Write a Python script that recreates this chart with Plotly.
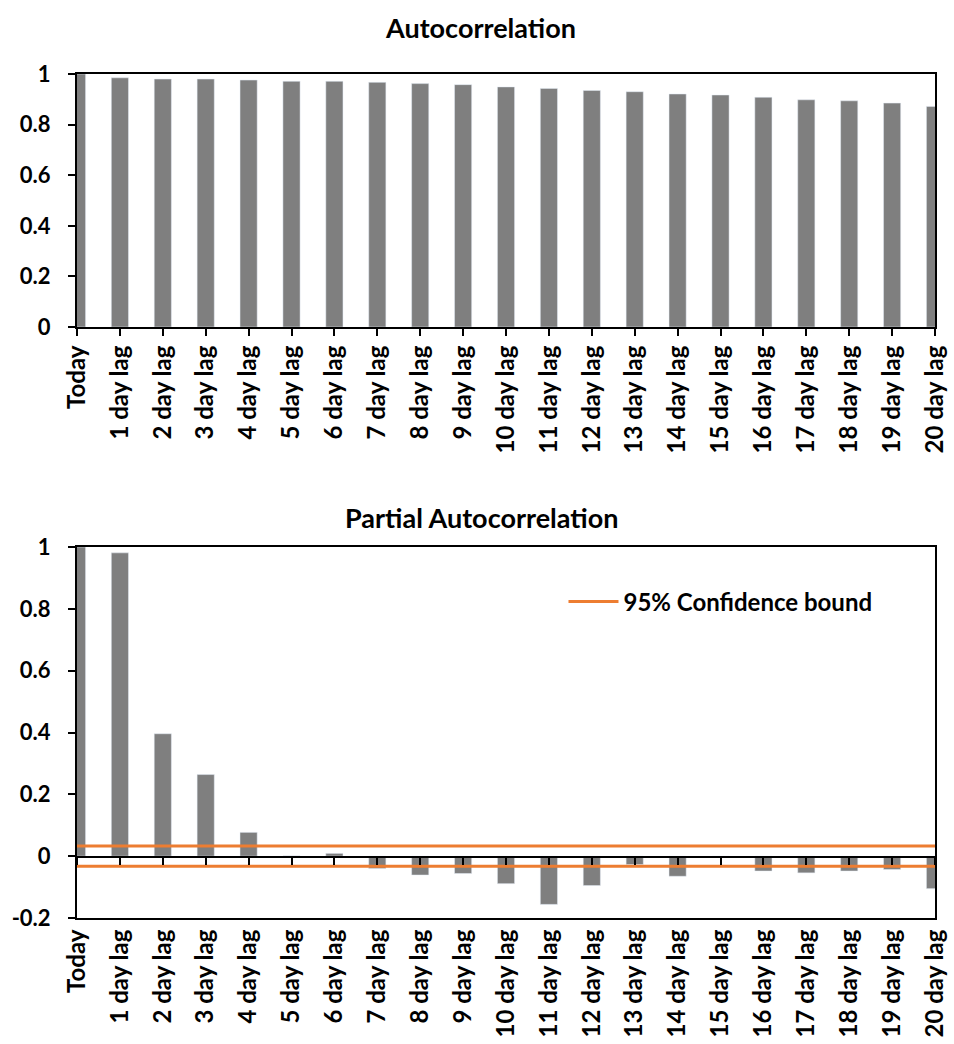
import plotly.graph_objects as go

# ---------------- data ----------------
categories = ["Today", "1 day lag", "2 day lag", "3 day lag", "4 day lag", "5 day lag",
              "6 day lag", "7 day lag", "8 day lag", "9 day lag", "10 day lag",
              "11 day lag", "12 day lag", "13 day lag", "14 day lag", "15 day lag",
              "16 day lag", "17 day lag", "18 day lag", "19 day lag", "20 day lag"]

acf_values = [1.0, 0.985, 0.980, 0.980, 0.976, 0.971, 0.971, 0.967, 0.962, 0.958,
              0.949, 0.943, 0.935, 0.930, 0.921, 0.917, 0.908, 0.898, 0.894, 0.885, 0.872]

pacf_values = [1.0, 0.981, 0.396, 0.264, 0.077, 0.001, 0.009, -0.040, -0.061, -0.056,
               -0.089, -0.156, -0.095, -0.027, -0.065, -0.002, -0.048, -0.054, -0.048,
               -0.043, -0.105]

conf_upper = [0.033] * len(categories)
conf_lower = [-0.033] * len(categories)

acf_ticks = [0, 0.2, 0.4, 0.6, 0.8, 1]
acf_ticklabels = ["0", "0.2", "0.4", "0.6", "0.8", "1"]
pacf_ticks = [-0.2, 0, 0.2, 0.4, 0.6, 0.8, 1]
pacf_ticklabels = ["-0.2", "0", "0.2", "0.4", "0.6", "0.8", "1"]

# ---------------- style ----------------
FONT = "Lato"
BAR = "#7F7F7F"
ORANGE = "#ED7D31"
W, H = 954, 1044
ML, MR, MT, MB = 77, 19, 74, 126
plot_h = H - MT - MB
top_dom = [(H - MB - 327) / plot_h, 1.0]
bot_dom = [0.0, (H - MB - 547) / plot_h]
pacf_range = [-0.2, 1.0]
zero_pos = bot_dom[0] + (bot_dom[1] - bot_dom[0]) * (0 - pacf_range[0]) / (pacf_range[1] - pacf_range[0])

xtickfont = dict(family=FONT, size=24, color="black", weight="bold")
ytickfont = dict(family=FONT, size=22, color="black", weight="bold")

fig = go.Figure()
fig.add_trace(go.Bar(x=categories, y=acf_values, marker_color=BAR, width=0.4,
                     xaxis="x", yaxis="y", showlegend=False, hoverinfo="x+y"))
fig.add_trace(go.Bar(x=categories, y=pacf_values, marker_color=BAR, width=0.4,
                     xaxis="x2", yaxis="y2", showlegend=False, hoverinfo="x+y"))
fig.add_trace(go.Scatter(x=categories, y=conf_upper, mode="lines",
                         line=dict(color=ORANGE, width=3), name="95% Confidence bound",
                         xaxis="x2", yaxis="y2", showlegend=True))
fig.add_trace(go.Scatter(x=categories, y=conf_lower, mode="lines",
                         line=dict(color=ORANGE, width=3), name="95% Confidence bound",
                         xaxis="x2", yaxis="y2", showlegend=False))
# invisible helper trace that carries the categories for the zero-line axis with ticks
fig.add_trace(go.Scatter(x=categories, y=pacf_values, mode="markers",
                         marker=dict(opacity=0), xaxis="x3", yaxis="y3",
                         showlegend=False, hoverinfo="skip"))

axis_common = dict(showline=True, linecolor="black", linewidth=2, mirror=True,
                   showgrid=False, zeroline=False, automargin=False)

fig.update_layout(
    width=W, height=H,
    margin=dict(l=ML, r=MR, t=MT, b=MB),
    paper_bgcolor="white", plot_bgcolor="rgba(0,0,0,0)",
    xaxis=dict(domain=[0, 1], anchor="y", type="category", range=[0, 20],
               ticks="outside", ticklen=7, tickwidth=2, tickcolor="black",
               tickangle=-90, tickfont=xtickfont, ticklabelstandoff=0, **axis_common),
    yaxis=dict(domain=top_dom, anchor="x", range=[0, 1], tickvals=acf_ticks,
               ticktext=acf_ticklabels, ticks="outside", ticklen=7, tickwidth=2,
               tickcolor="black", tickfont=ytickfont, ticklabelstandoff=13, **axis_common),
    xaxis2=dict(domain=[0, 1], anchor="y2", type="category", range=[0, 20],
                ticks="", tickangle=-90, tickfont=xtickfont, ticklabelstandoff=0,
                **axis_common),
    yaxis2=dict(domain=bot_dom, anchor="x2", range=pacf_range, tickvals=pacf_ticks,
                ticktext=pacf_ticklabels, ticks="outside", ticklen=7, tickwidth=2,
                tickcolor="black", tickfont=ytickfont, ticklabelstandoff=13, **axis_common),
    xaxis3=dict(domain=[0, 1], anchor="y3", side="bottom",
                type="category", range=[0, 20], showline=True, linecolor="black",
                linewidth=2, ticks="outside", ticklen=7, tickwidth=2, tickcolor="black",
                showticklabels=False, showgrid=False, zeroline=False, automargin=False),
    yaxis3=dict(domain=[zero_pos, bot_dom[1]], anchor="x3", range=[5, 6],
                showticklabels=False, ticks="", showline=False,
                showgrid=False, zeroline=False, automargin=False),
    legend=dict(x=0.567, y=(H - MB - 602) / plot_h, xanchor="left", yanchor="middle",
                itemwidth=50,
                font=dict(family=FONT, size=24, color="black", weight="bold"),
                bgcolor="rgba(0,0,0,0)"),
    annotations=[
        dict(text="Autocorrelation", xref="paper", yref="paper", x=0.47,
             y=(H - MB - 28) / plot_h, xanchor="center", yanchor="middle", showarrow=False,
             font=dict(family=FONT, size=27, color="black", weight="bold")),
        dict(text="Partial Autocorrelation", xref="paper", yref="paper", x=0.472,
             y=(H - MB - 517) / plot_h, xanchor="center", yanchor="middle", showarrow=False,
             font=dict(family=FONT, size=27, color="black", weight="bold")),
    ],
)

fig.write_html("out.html", config={"displayModeBar": False},
               post_script="document.body.style.margin='0';document.body.style.overflow='hidden';")
